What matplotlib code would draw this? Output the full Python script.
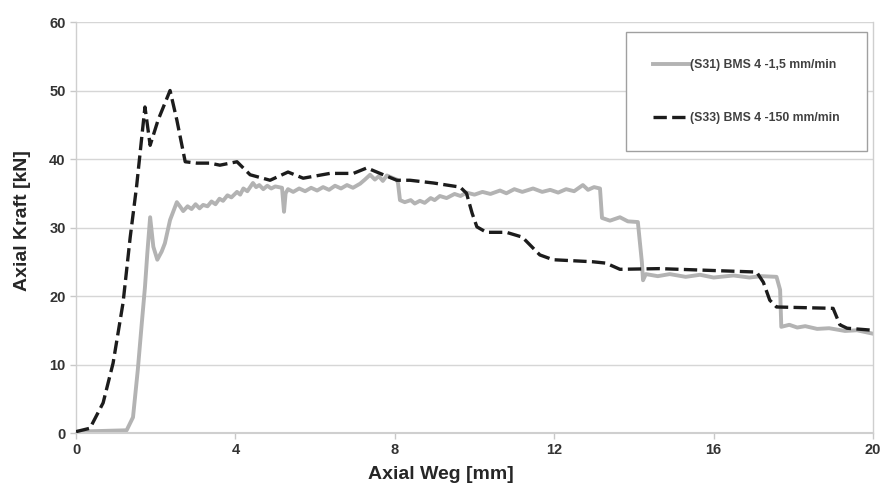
import matplotlib
matplotlib.use('Agg')
import matplotlib.pyplot as plt

#Data (x in mm, y in kN)
#S31 - 1,5 mm/min
weg_s31 = [0, 1.27, 1.43, 1.55, 1.65, 1.73, 1.79, 1.86, 1.94, 2.04, 2.15, 2.23, 2.36, 2.53,
           2.62, 2.69, 2.8, 2.9, 3.0, 3.1, 3.19, 3.3, 3.4, 3.5, 3.6, 3.69, 3.8, 3.9,
           4.04, 4.12, 4.2, 4.3, 4.44, 4.52, 4.6, 4.7, 4.8, 4.9, 5.0, 5.17, 5.22, 5.26,
           5.32, 5.45, 5.6, 5.75, 5.9, 6.05, 6.2, 6.35, 6.5, 6.65, 6.8, 6.95, 7.13, 7.25,
           7.38, 7.5, 7.6, 7.7, 7.8, 7.96, 8.05, 8.08, 8.13, 8.25, 8.4, 8.5, 8.63, 8.75,
           8.9, 9.0, 9.13, 9.3, 9.5, 9.65, 9.8, 10.0, 10.2, 10.4, 10.64, 10.8, 11.0, 11.2,
           11.47, 11.7, 11.9, 12.1, 12.3, 12.5, 12.72, 12.85, 13.0, 13.15, 13.2, 13.4, 13.65,
           13.85, 14.1, 14.2, 14.23, 14.3, 14.6, 14.9, 15.3, 15.66, 16.0, 16.5, 16.9, 17.2,
           17.58, 17.67, 17.7, 17.9, 18.1, 18.3, 18.6, 18.9, 19.3, 19.6, 20]
kraft_s31 = [0.2, 0.4, 2.3, 9.2, 16, 21.3, 26.3, 31.5, 27.2, 25.3, 26.5, 27.7, 31.1, 33.7,
             33.0, 32.4, 33.1, 32.7, 33.4, 32.8, 33.3, 33.1, 33.8, 33.4, 34.2, 33.9, 34.7, 34.4,
             35.2, 34.8, 35.7, 35.3, 36.5, 35.9, 36.2, 35.6, 36.1, 35.7, 36.0, 35.8, 32.3, 35.0,
             35.6, 35.2, 35.7, 35.3, 35.8, 35.4, 35.9, 35.5, 36.1, 35.7, 36.2, 35.8, 36.4, 37.0,
             37.7, 37.0, 37.5, 36.8, 37.6, 37.2, 37.0, 36.5, 34.0, 33.7, 34.0, 33.5, 33.9, 33.6,
             34.3, 34.0, 34.6, 34.3, 34.9, 34.6, 35.1, 34.8, 35.2, 34.9, 35.4, 35.0, 35.6, 35.2,
             35.7, 35.2, 35.5, 35.1, 35.6, 35.3, 36.2, 35.5, 35.9, 35.7, 31.4, 31.0, 31.5,
             30.9, 30.8, 25.0, 22.3, 23.2, 22.9, 23.2, 22.8, 23.1, 22.7, 23.0, 22.7, 22.9,
             22.8, 20.9, 15.5, 15.8, 15.4, 15.6, 15.2, 15.3, 14.9, 15.0, 14.5]

#S33 - 150 mm/min
weg_s33 = [0, 0.35, 0.68, 0.93, 1.18, 1.36, 1.52, 1.65, 1.73, 1.86, 2.06, 2.36, 2.53, 2.74,
           3.03, 3.36, 3.61, 4.04, 4.37, 4.87, 5.32, 5.7, 6.37, 6.96, 7.3, 7.63, 8.05, 8.38,
           8.97, 9.64, 9.8, 9.94, 10.06, 10.3, 10.8, 11.2, 11.64, 11.97, 12.97, 13.3, 13.65,
           14.65, 17.08, 17.25, 17.41, 17.58, 19.0, 19.17, 19.35, 20]
kraft_s33 = [0.2, 0.7, 4.4, 10.2, 19, 28.6, 36, 43.2, 47.6, 42, 45.7, 50, 45.7, 39.6,
             39.4, 39.4, 39.1, 39.6, 37.7, 36.9, 38.1, 37.2, 37.9, 37.9, 38.7, 37.9, 36.9, 36.9,
             36.5, 35.9, 35.0, 32.1, 30.1, 29.3, 29.3, 28.6, 26.0, 25.3, 25.0, 24.8, 23.9,
             24.0, 23.5, 22.0, 19.4, 18.4, 18.2, 15.8, 15.3, 15.0]

labels = ['(S31) BMS 4 -1,5 mm/min', '(S33) BMS 4 -150 mm/min']
xticks = [0, 4, 8, 12, 16, 20]
yticks = [0, 10, 20, 30, 40, 50, 60]

plt.rcParams['font.family'] = ['Liberation Sans', 'DejaVu Sans']
plt.rcParams['font.weight'] = 'bold'

fig = plt.figure(figsize=(8.84, 4.86), dpi=100)
ax = fig.add_axes([0.086, 0.109, 0.9015, 0.8457])

#Grid
for y in yticks:
    ax.axhline(y, color='#d6d6d6', lw=1.0, zorder=0)

ax.plot(weg_s31, kraft_s31, color='#b3b3b3', lw=2.8, label=labels[0], zorder=2)
ax.plot(weg_s33, kraft_s33, color='#1c1c1c', lw=2.4, linestyle=(0, (4, 1.6)),
        label=labels[1], zorder=3)

ax.set_xlim(0, 20)
ax.set_ylim(0, 60)
ax.set_xticks(xticks)
ax.set_yticks(yticks)
ax.tick_params(colors='#c8c8c8', labelcolor='#333333', labelsize=10.5, length=4, width=1)

for s in ['left', 'right', 'bottom']:
    ax.spines[s].set_color('#cfcfcf')
    ax.spines[s].set_linewidth(1.0)
ax.spines['bottom'].set_linewidth(1.5)
ax.spines['top'].set_visible(False)

ax.set_xlabel('Axial Weg [mm]', fontsize=14, fontweight='bold', color='#262626')
ax.set_ylabel('Axial Kraft [kN]', fontsize=14, fontweight='bold', color='#262626')
ax.xaxis.set_label_coords(0.458, -0.08)
ax.yaxis.set_label_coords(-0.056, 0.516)

#Legend
leg = ax.legend(loc='upper right', bbox_to_anchor=(0.9925, 0.9757), borderaxespad=0,
                fontsize=8.8, labelspacing=3.4, handlelength=2.9, handletextpad=0.15,
                borderpad=2.2, fancybox=False, framealpha=1)
leg.get_frame().set_edgecolor('#a0a0a0')
leg.get_frame().set_linewidth(1.0)
for t in leg.get_texts():
    t.set_color('#404040')

plt.savefig('out.png', dpi=100)
